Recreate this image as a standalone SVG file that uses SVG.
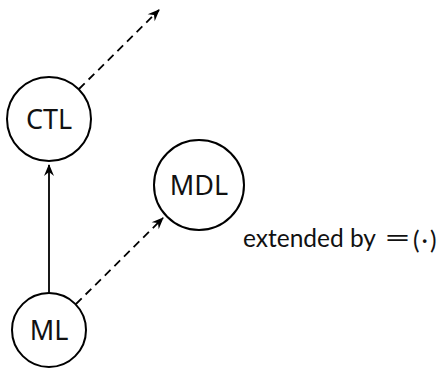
<svg xmlns="http://www.w3.org/2000/svg" width="444" height="368" viewBox="0 0 444 368">
  <style>
    .node circle { fill: #fff; stroke: #000; stroke-width: 2; }
    .node text, .label { font-family: "Noto Sans", "DejaVu Sans", sans-serif; font-size: 27px; fill: #111; }
    .node text { text-anchor: middle; }
    .label { font-family: Lato, "Noto Sans", sans-serif; font-size: 24.5px; }
    .edge { stroke: #000; stroke-width: 1.8; fill: none; }
    .dashed { stroke-dasharray: 8 5.5; }
  </style>
  <defs>
    <marker id="stealth" viewBox="-12 -6 14 12" refX="0" refY="0" markerWidth="14" markerHeight="12" markerUnits="userSpaceOnUse" orient="auto">
      <path d="M1,0 L-11,-5 L-7,0 L-11,5 Z" fill="#000"/>
    </marker>
  </defs>

  <g id="connectors">
    <line class="edge" x1="49" y1="293" x2="49" y2="165" marker-end="url(#stealth)"/>
    <line class="edge dashed" x1="79" y1="89" x2="159" y2="10" marker-end="url(#stealth)"/>
    <line class="edge dashed" x1="76" y1="304" x2="163" y2="218" marker-end="url(#stealth)"/>
  </g>

  <g id="node-ctl" class="node">
    <circle cx="49" cy="119" r="42"/>
    <text x="49" y="129">CTL</text>
  </g>
  <g id="node-mdl" class="node">
    <circle cx="199" cy="185" r="45"/>
    <text x="199" y="195">MDL</text>
  </g>
  <g id="node-ml" class="node">
    <circle cx="49" cy="330" r="37"/>
    <text x="49" y="340">ML</text>
  </g>

  <!-- caption: the "=" is set wider, as a math relation -->
  <g id="caption">
    <text class="label" x="243" y="247">extended by</text>
    <text class="label" transform="translate(384,247) scale(1.9,1)">=</text>
    <text class="label" font-size="30" letter-spacing="2" x="413" y="249">(·)</text>
  </g>
</svg>
